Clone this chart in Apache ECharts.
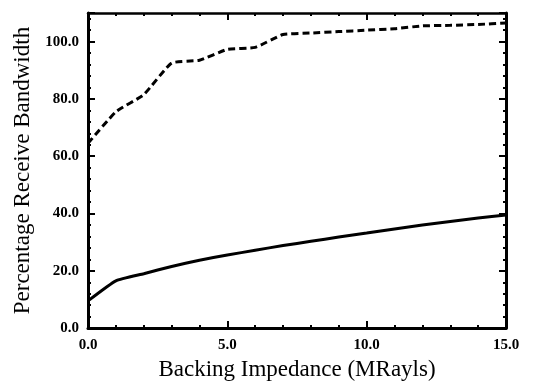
<!DOCTYPE html>
<html><head><meta charset="utf-8">
<script src="https://cdn.jsdelivr.net/npm/echarts@6/dist/echarts.min.js"></script>
<style>html,body{margin:0;padding:0;background:#fff}#c{width:535px;height:386px}</style>
</head><body><div id="c"></div>
<script>
const impedance = [0,1,2,3,4,5,6,7,8,9,10,11,12,13,14,15];
const upperBandwidth = [64.5,75.5,81.5,92.5,93.5,97.3,98,102.5,103,103.5,104,104.5,105.5,105.7,106,106.5];
const lowerBandwidth = [9.5,16.5,19,21.5,23.7,25.5,27.2,28.8,30.3,31.8,33.2,34.6,36,37.2,38.4,39.5];
const xLabelStep = 5;
const yLabelStep = 20;

const serif = '"Liberation Serif","DejaVu Serif",serif';
const pair = (xs, ys) => xs.map((x, i) => [x, ys[i]]);
const fmt = v => v.toFixed(1);

const axisCommon = {
  axisLine: {show: true, onZero: false, lineStyle: {color: '#000', width: 3}},
  axisTick: {show: true, inside: true, length: 7, lineStyle: {color: '#000', width: 2}},
  minorTick: {show: true, splitNumber: 5, length: 3, lineStyle: {color: '#000', width: 2}},
  splitLine: {show: false}
};

const chart = echarts.init(document.getElementById('c'));
chart.setOption({
  animation: false,
  backgroundColor: '#fff',
  grid: {left: 88, right: 29, top: 13, bottom: 50},
  xAxis: [
    Object.assign({}, axisCommon, {
      type: 'value', min: 0, max: 15, interval: xLabelStep, position: 'bottom',
      name: 'Backing Impedance (MRayls)', nameLocation: 'middle', nameGap: 28,
      nameTextStyle: {fontFamily: serif, fontSize: 23, color: '#000'},
      axisLabel: {formatter: fmt, fontFamily: serif, fontSize: 15, fontWeight: 'bold', color: '#000', margin: 10}
    }),
    Object.assign({}, axisCommon, {
      type: 'value', min: 0, max: 15, interval: xLabelStep, position: 'top',
      axisLine: {show: true, onZero: false, lineStyle: {color: '#000', width: 2.5}},
      axisLabel: {show: false}
    })
  ],
  yAxis: [
    Object.assign({}, axisCommon, {
      type: 'value', min: 0, max: 110, interval: yLabelStep, position: 'left',
      name: 'Percentage Receive Bandwidth', nameLocation: 'middle', nameGap: 53,
      nameTextStyle: {fontFamily: serif, fontSize: 23, color: '#000'},
      axisLabel: {formatter: fmt, showMaxLabel: false, fontFamily: serif, fontSize: 15, fontWeight: 'bold', color: '#000', margin: 9}
    }),
    Object.assign({}, axisCommon, {
      type: 'value', min: 0, max: 110, interval: yLabelStep, position: 'right',
      axisLabel: {show: false}
    })
  ],
  series: [
    {
      type: 'line', data: pair(impedance, upperBandwidth), smooth: 0.15,
      showSymbol: false, lineStyle: {color: '#000', width: 3, type: [7, 4]}
    },
    {
      type: 'line', data: pair(impedance, lowerBandwidth), smooth: 0.15,
      showSymbol: false, lineStyle: {color: '#000', width: 3}
    }
  ]
});
</script></body></html>
